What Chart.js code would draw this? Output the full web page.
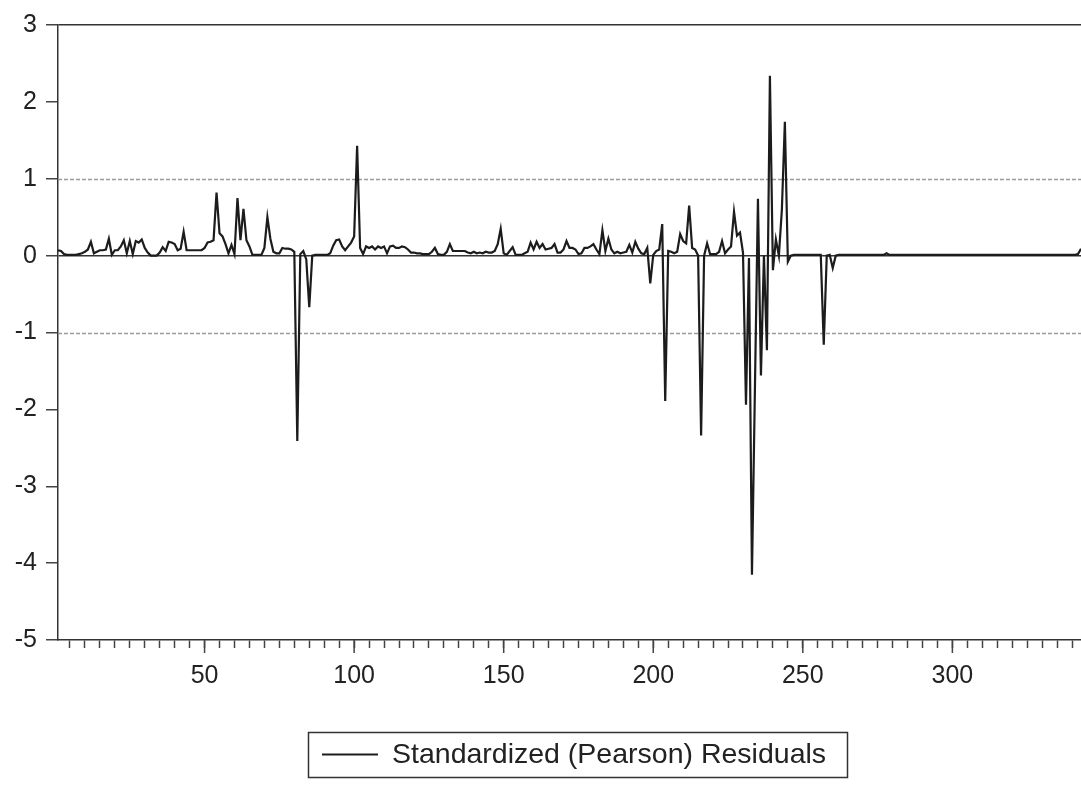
<!DOCTYPE html>
<html>
<head>
<meta charset="utf-8">
<script src="https://cdn.jsdelivr.net/npm/chart.js@4.4.1/dist/chart.umd.min.js"></script>
<style>
  html, body { margin: 0; padding: 0; background: #fff; }
  canvas { display: block; }
</style>
</head>
<body>
<canvas id="residChart" width="1081" height="787"></canvas>
<script>
const seriesLabel = 'Standardized (Pearson) Residuals';

const residuals = [
  0.07, 0.06, 0.02, 0.01, 0.01, 0.01, 0.01, 0.02, 0.03, 0.05,
  0.08, 0.18, 0.03, 0.05, 0.07, 0.07, 0.08, 0.22, 0.01, 0.07,
  0.07, 0.12, 0.20, 0.03, 0.19, 0.02, 0.19, 0.17, 0.21, 0.10,
  0.04, 0.00, 0.00, 0.00, 0.04, 0.11, 0.06, 0.18, 0.17, 0.15,
  0.07, 0.09, 0.31, 0.07, 0.07, 0.07, 0.07, 0.07, 0.07, 0.10,
  0.17, 0.18, 0.20, 0.82, 0.29, 0.25, 0.15, 0.03, 0.14, 0.02,
  0.75, 0.20, 0.61, 0.20, 0.12, 0.01, 0.01, 0.01, 0.01, 0.10,
  0.50, 0.22, 0.05, 0.03, 0.03, 0.10, 0.09, 0.09, 0.08, 0.05,
  -2.41, 0.02, 0.06, -0.05, -0.67, 0.00, 0.01, 0.01, 0.01, 0.01,
  0.01, 0.03, 0.13, 0.20, 0.21, 0.12, 0.07, 0.12, 0.17, 0.25,
  1.43, 0.10, 0.02, 0.12, 0.10, 0.12, 0.08, 0.12, 0.10, 0.12,
  0.03, 0.12, 0.13, 0.10, 0.10, 0.12, 0.11, 0.08, 0.04, 0.04,
  0.03, 0.03, 0.02, 0.02, 0.02, 0.05, 0.10, 0.02, 0.01, 0.01,
  0.05, 0.15, 0.06, 0.06, 0.06, 0.06, 0.06, 0.04, 0.03, 0.05,
  0.03, 0.04, 0.03, 0.05, 0.04, 0.04, 0.06, 0.15, 0.35, 0.03,
  0.01, 0.06, 0.11, 0.01, 0.01, 0.01, 0.03, 0.05, 0.17, 0.08,
  0.18, 0.10, 0.15, 0.08, 0.09, 0.10, 0.15, 0.04, 0.04, 0.08,
  0.19, 0.10, 0.10, 0.08, 0.02, 0.03, 0.10, 0.10, 0.12, 0.15,
  0.08, 0.02, 0.33, 0.06, 0.22, 0.08, 0.03, 0.05, 0.03, 0.04,
  0.05, 0.14, 0.04, 0.18, 0.09, 0.03, 0.02, 0.10, -0.36, 0.01,
  0.06, 0.08, 0.41, -1.89, 0.06, 0.05, 0.03, 0.05, 0.28, 0.19,
  0.16, 0.65, 0.10, 0.08, 0.00, -2.34, 0.00, 0.16, 0.02, 0.02,
  0.02, 0.05, 0.19, 0.03, 0.08, 0.12, 0.57, 0.26, 0.30, 0.04,
  -1.94, -0.03, -4.15, -1.70, 0.74, -1.56, 0.00, -1.23, 2.34, -0.19,
  0.21, 0.00, 0.60, 1.74, -0.08, 0.00, 0.01, 0.01, 0.01, 0.01,
  0.01, 0.01, 0.01, 0.01, 0.01, 0.01, -1.16, 0.00, 0.01, -0.16,
  0.00, 0.01, 0.01, 0.01, 0.01, 0.01, 0.01, 0.01, 0.01, 0.01,
  0.01, 0.01, 0.01, 0.01, 0.01, 0.01, 0.01, 0.03, 0.01, 0.01,
  0.01, 0.01, 0.01, 0.01, 0.01, 0.01, 0.01, 0.01, 0.01, 0.01,
  0.01, 0.01, 0.01, 0.01, 0.01, 0.01, 0.01, 0.01, 0.01, 0.01,
  0.01, 0.01, 0.01, 0.01, 0.01, 0.01, 0.01, 0.01, 0.01, 0.01,
  0.01, 0.01, 0.01, 0.01, 0.01, 0.01, 0.01, 0.01, 0.01, 0.01,
  0.01, 0.01, 0.01, 0.01, 0.01, 0.01, 0.01, 0.01, 0.01, 0.01,
  0.01, 0.01, 0.01, 0.01, 0.01, 0.01, 0.01, 0.01, 0.01, 0.01,
  0.01, 0.02, 0.09
];
const obs = residuals.map((v, i) => i + 1);

const yTicks = [-5, -4, -3, -2, -1, 0, 1, 2, 3];
const xMajorTicks = [50, 100, 150, 200, 250, 300];
const xMinorStep = 5;
const refLines = [1, -1];

const FONT = "'Liberation Sans', Arial, sans-serif";
const INK = '#222';

// dashed +/-1 bands, longer major ticks, boxed legend
const extras = {
  id: 'extras',
  beforeDatasetsDraw(chart) {
    const { ctx, chartArea, scales } = chart;
    ctx.save();
    ctx.strokeStyle = '#9a9a9a';
    ctx.lineWidth = 1.5;
    ctx.setLineDash([4, 2]);
    refLines.forEach(v => {
      const y = Math.round(scales.y.getPixelForValue(v)) + 0.5;
      ctx.beginPath();
      ctx.moveTo(chartArea.left, y);
      ctx.lineTo(chartArea.right, y);
      ctx.stroke();
    });
    ctx.restore();
  },
  afterDraw(chart) {
    const { ctx, chartArea, scales } = chart;
    ctx.save();
    ctx.strokeStyle = '#444';
    ctx.lineWidth = 1.5;
    xMajorTicks.forEach(v => {
      const x = scales.x.getPixelForValue(v);
      ctx.beginPath();
      ctx.moveTo(x, chartArea.bottom);
      ctx.lineTo(x, chartArea.bottom + 13);
      ctx.stroke();
    });

    // legend
    const ds = chart.data.datasets[0];
    ctx.strokeStyle = '#333';
    ctx.lineWidth = 1.5;
    ctx.strokeRect(308.5, 732.5, 539, 45);
    ctx.strokeStyle = ds.borderColor;
    ctx.lineWidth = 2;
    ctx.beginPath();
    ctx.moveTo(322, 754.5);
    ctx.lineTo(378, 754.5);
    ctx.stroke();
    ctx.fillStyle = INK;
    ctx.font = '28.5px ' + FONT;
    ctx.textBaseline = 'middle';
    ctx.fillText(ds.label, 392, 755);
    ctx.restore();
  }
};

new Chart(document.getElementById('residChart'), {
  type: 'line',
  data: {
    datasets: [{
      label: seriesLabel,
      data: obs.map((x, i) => ({ x: x, y: residuals[i] })),
      borderColor: '#1c1c1c',
      borderWidth: 2.2,
      pointRadius: 0,
      tension: 0,
      fill: false
    }]
  },
  options: {
    responsive: false,
    animation: false,
    devicePixelRatio: 1,
    layout: { padding: { top: 25, right: 0, bottom: 0, left: 0 } },
    plugins: {
      legend: { display: false },
      tooltip: { enabled: false }
    },
    scales: {
      x: {
        type: 'linear',
        min: 1,
        max: obs.length,
        afterBuildTicks: (axis) => {
          const t = [];
          for (let v = xMinorStep; v < obs.length; v += xMinorStep) t.push({ value: v });
          axis.ticks = t;
        },
        afterFit: (axis) => {
          axis.height = 147;
          axis.paddingRight = 0;
          axis.paddingLeft = 0;
        },
        grid: {
          drawOnChartArea: false,
          drawTicks: true,
          tickLength: 8,
          tickColor: '#444',
          tickWidth: 1.5
        },
        border: { display: true, color: '#333', width: 1.5 },
        ticks: {
          autoSkip: false,
          maxRotation: 0,
          minRotation: 0,
          padding: 13,
          color: INK,
          font: { family: FONT, size: 25 },
          callback: (v) => xMajorTicks.includes(v) ? String(v) : ''
        }
      },
      y: {
        min: yTicks[0],
        max: yTicks[yTicks.length - 1],
        afterBuildTicks: (axis) => { axis.ticks = yTicks.map(v => ({ value: v })); },
        afterFit: (axis) => {
          axis.width = 58;
          axis.paddingTop = 0;
          axis.paddingBottom = 0;
        },
        grid: {
          color: (c) => (c.tick && (c.tick.value === 0 || c.tick.value === 3)) ? '#333' : 'rgba(0,0,0,0)',
          lineWidth: 1.5,
          drawTicks: true,
          tickLength: 12,
          tickColor: '#444',
          tickWidth: 1.5
        },
        border: { display: true, color: '#333', width: 1.5 },
        ticks: {
          padding: 9,
          color: INK,
          font: { family: FONT, size: 25 },
          callback: (v) => String(v)
        }
      }
    }
  },
  plugins: [extras]
});
</script>
</body>
</html>
